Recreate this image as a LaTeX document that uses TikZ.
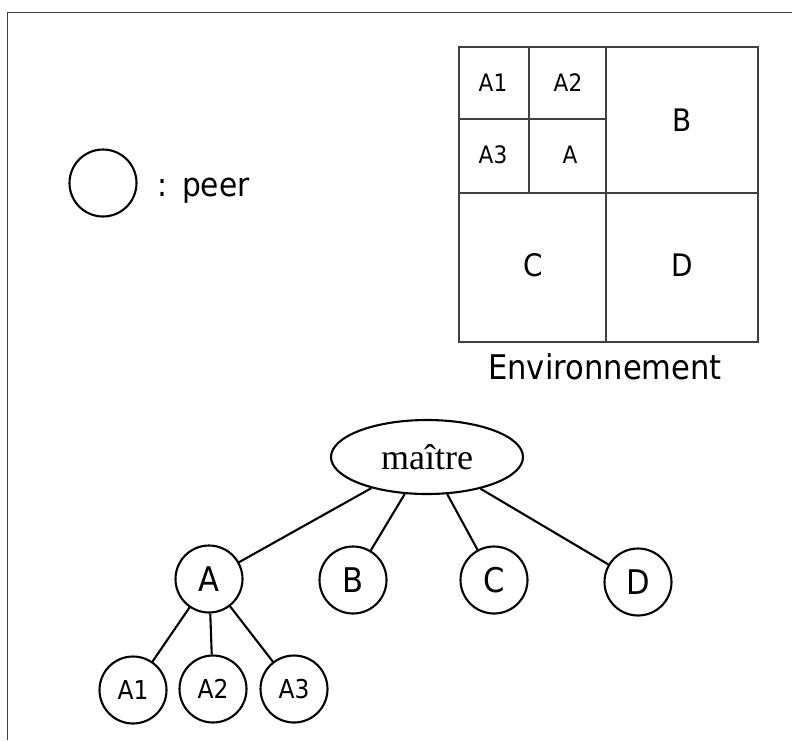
\documentclass[tikz,border=0pt]{standalone}
\usepackage{fontspec}
\setmainfont{DejaVu Sans}[FakeStretch=0.9]
\newfontfamily\mytimes{Liberation Serif}
\usetikzlibrary{shapes.geometric}
\newcommand\fsz[1]{\fontsize{#1}{#1}\selectfont}
\begin{document}
\begin{tikzpicture}[x=1pt,y=-1pt,
  peer/.style={draw,line width=2.1pt,circle,minimum size=67pt,inner sep=0pt,font=\fsz{34}},
  leaf/.style={peer,font=\fsz{26}},
  link/.style={line width=2.1pt},
  cell/.style={draw=black!75,line width=1.3pt},
  small/.style={inner sep=0pt,font=\fsz{24}},
  big/.style={inner sep=0pt,font=\fsz{31}}]
\useasboundingbox (0,0) rectangle (792,740);
% frame
\draw[line width=1pt,black!75] (7,740) -- (7,12) -- (792,12);
% legend
\node[draw,circle,line width=2.1pt,minimum size=67pt,inner sep=0pt] (leg) at (103,183) {};
\node[anchor=base west,inner sep=0pt,font=\fsz{33}] (legtxt) at (157,196) {:\hspace{0.45em}peer};
% environment grid
\draw[cell] (459,47) rectangle (758,342);
\draw[cell] (606,47) -- (606,342);
\draw[cell] (459,193) -- (758,193);
\draw[cell] (529,47) -- (529,193);
\draw[cell] (459,119) -- (606,119);
\node[small] (gA1) at (493,83) {A1};
\node[small] (gA2) at (568,83) {A2};
\node[small] (gA3) at (493,155) {A3};
\node[small] (gA) at (570,155) {A};
\node[big] (gB) at (682,120) {B};
\node[big] (gC) at (533,265) {C};
\node[big] (gD) at (682,265) {D};
\node[inner sep=0pt,font=\fsz{34}] (env) at (605,367) {Environnement};
% tree
\node[draw,ellipse,line width=2.1pt,minimum width=192pt,minimum height=74pt,inner sep=0pt,font=\mytimes\fsz{36}] (m) at (427,457) {maître};
\node[peer] (A) at (209,579) {A};
\node[peer] (B) at (353,580) {B};
\node[peer] (C) at (494,580) {C};
\node[peer] (D) at (638,582) {D};
\node[leaf] (A1) at (133,690) {\raisebox{-5pt}{A1}};
\node[leaf] (A2) at (213,689) {\raisebox{-3pt}{A2}};
\node[leaf] (A3) at (294,689) {\raisebox{-3pt}{A3}};
\draw[link] (m) -- (A);
\draw[link] (m) -- (B);
\draw[link] (m) -- (C);
\draw[link] (m) -- (D);
\draw[link] (A) -- (A1);
\draw[link] (A) -- (A2);
\draw[link] (A) -- (A3);
\end{tikzpicture}
\end{document}
